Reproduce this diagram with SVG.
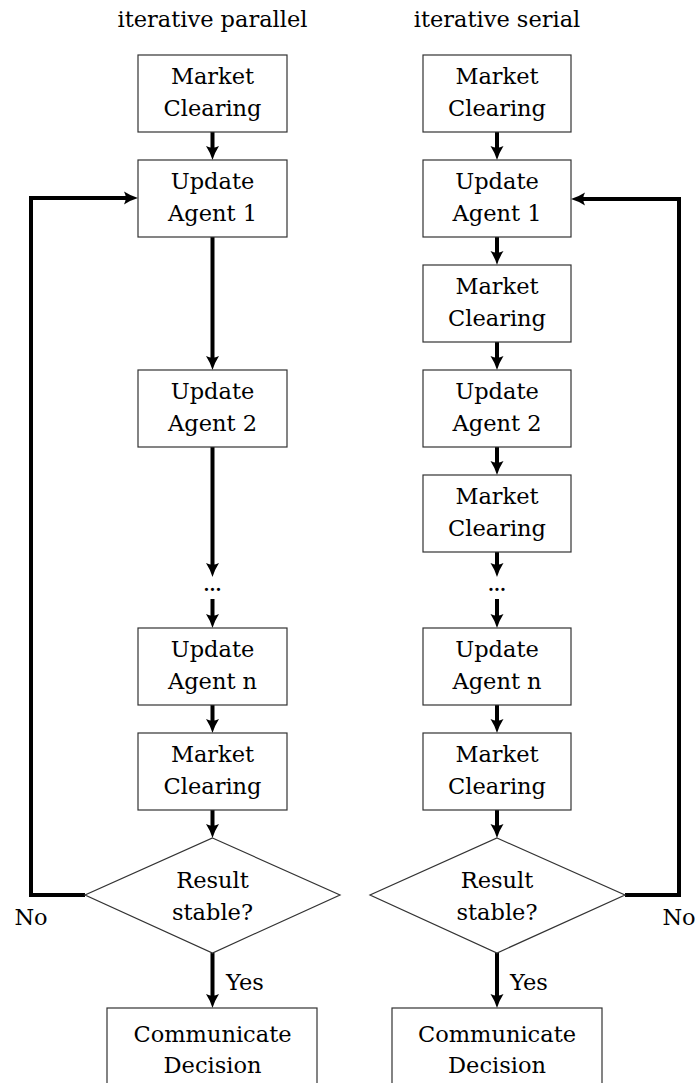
<svg xmlns="http://www.w3.org/2000/svg" width="695" height="1083" viewBox="0 0 695 1083">
<style>
text{font-family:"DejaVu Serif","Liberation Serif",serif;font-size:22.5px;fill:#000;text-anchor:middle}
.box{fill:#fff;stroke:#333;stroke-width:1.2}
.c{fill:none;stroke:#000;stroke-width:4}
.dots{font-size:17px;font-weight:bold}
</style>
<defs>
<marker id="ah" markerUnits="userSpaceOnUse" markerWidth="16" markerHeight="16" viewBox="0 0 16 16" refX="7" refY="8" orient="auto">
<path d="M0,1.5 Q7,6 14,8 Q7,10 0,14.5 Q3.5,8 0,1.5 Z" fill="#000"/>
</marker>
</defs>
<rect width="695" height="1083" fill="#fff"/>
<text x="212.5" y="27">iterative parallel</text>
<text x="497" y="27">iterative serial</text>
<g id="connectors">
<line class="c" x1="212.5" y1="132" x2="212.5" y2="153" marker-end="url(#ah)"/>
<line class="c" x1="212.5" y1="237" x2="212.5" y2="363" marker-end="url(#ah)"/>
<line class="c" x1="212.5" y1="447" x2="212.5" y2="570" marker-end="url(#ah)"/>
<line class="c" x1="212.5" y1="599" x2="212.5" y2="621" marker-end="url(#ah)"/>
<line class="c" x1="212.5" y1="705" x2="212.5" y2="726" marker-end="url(#ah)"/>
<line class="c" x1="212.5" y1="810" x2="212.5" y2="831" marker-end="url(#ah)"/>
<line class="c" x1="212.5" y1="953" x2="212.5" y2="1001" marker-end="url(#ah)"/>
<polyline class="c" points="85,895 31,895 31,198 131,198" marker-end="url(#ah)"/>
<line class="c" x1="497" y1="132" x2="497" y2="153" marker-end="url(#ah)"/>
<line class="c" x1="497" y1="237" x2="497" y2="258" marker-end="url(#ah)"/>
<line class="c" x1="497" y1="342" x2="497" y2="363" marker-end="url(#ah)"/>
<line class="c" x1="497" y1="447" x2="497" y2="468" marker-end="url(#ah)"/>
<line class="c" x1="497" y1="552" x2="497" y2="570" marker-end="url(#ah)"/>
<line class="c" x1="497" y1="599" x2="497" y2="621" marker-end="url(#ah)"/>
<line class="c" x1="497" y1="705" x2="497" y2="726" marker-end="url(#ah)"/>
<line class="c" x1="497" y1="810" x2="497" y2="831" marker-end="url(#ah)"/>
<line class="c" x1="497" y1="953" x2="497" y2="1001" marker-end="url(#ah)"/>
<polyline class="c" points="625,895 679,895 679,199 578,199" marker-end="url(#ah)"/>
<text x="31" y="925">No</text>
<text x="679" y="925">No</text>
<text x="245" y="990">Yes</text>
<text x="529" y="990">Yes</text>
</g>
<g id="pMC1"><rect class="box" x="138" y="55" width="149" height="77"/><text x="212.5" y="84">Market</text><text x="212.5" y="116">Clearing</text></g>
<g id="pUA1"><rect class="box" x="138" y="160" width="149" height="77"/><text x="212.5" y="189">Update</text><text x="212.5" y="221">Agent 1</text></g>
<g id="pUA2"><rect class="box" x="138" y="370" width="149" height="77"/><text x="212.5" y="399">Update</text><text x="212.5" y="431">Agent 2</text></g>
<g id="pDots"><text class="dots" x="212.5" y="591">...</text></g>
<g id="pUAn"><rect class="box" x="138" y="628" width="149" height="77"/><text x="212.5" y="657">Update</text><text x="212.5" y="689">Agent n</text></g>
<g id="pMC2"><rect class="box" x="138" y="733" width="149" height="77"/><text x="212.5" y="762">Market</text><text x="212.5" y="794">Clearing</text></g>
<g id="pDec"><polygon class="box" points="212.5,838 340,895 212.5,953 85,895"/><text x="212.5" y="888">Result</text><text x="212.5" y="920">stable?</text></g>
<g id="pCom"><rect class="box" x="107" y="1008" width="210" height="90"/><text x="212.5" y="1042">Communicate</text><text x="212.5" y="1073">Decision</text></g>
<g id="sMC1"><rect class="box" x="423" y="55" width="148" height="77"/><text x="497" y="84">Market</text><text x="497" y="116">Clearing</text></g>
<g id="sUA1"><rect class="box" x="423" y="160" width="148" height="77"/><text x="497" y="189">Update</text><text x="497" y="221">Agent 1</text></g>
<g id="sMC2"><rect class="box" x="423" y="265" width="148" height="77"/><text x="497" y="294">Market</text><text x="497" y="326">Clearing</text></g>
<g id="sUA2"><rect class="box" x="423" y="370" width="148" height="77"/><text x="497" y="399">Update</text><text x="497" y="431">Agent 2</text></g>
<g id="sMC3"><rect class="box" x="423" y="475" width="148" height="77"/><text x="497" y="504">Market</text><text x="497" y="536">Clearing</text></g>
<g id="sDots"><text class="dots" x="497" y="591">...</text></g>
<g id="sUAn"><rect class="box" x="423" y="628" width="148" height="77"/><text x="497" y="657">Update</text><text x="497" y="689">Agent n</text></g>
<g id="sMC4"><rect class="box" x="423" y="733" width="148" height="77"/><text x="497" y="762">Market</text><text x="497" y="794">Clearing</text></g>
<g id="sDec"><polygon class="box" points="497,838 625,895 497,953 370,895"/><text x="497" y="888">Result</text><text x="497" y="920">stable?</text></g>
<g id="sCom"><rect class="box" x="392" y="1008" width="210" height="90"/><text x="497" y="1042">Communicate</text><text x="497" y="1073">Decision</text></g>
</svg>
